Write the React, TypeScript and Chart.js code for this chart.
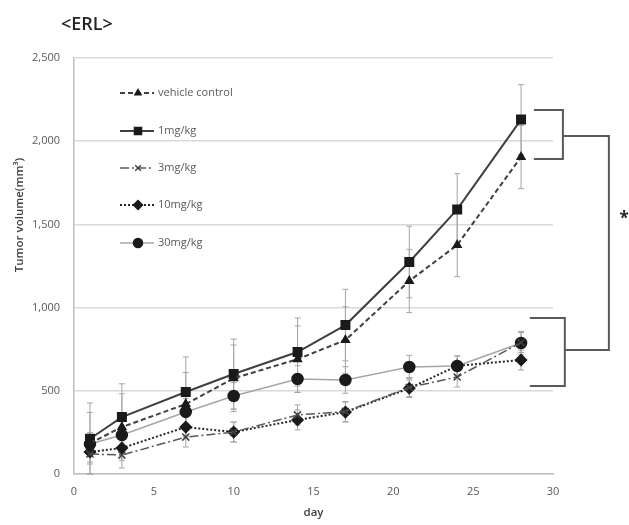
import React, { useEffect, useRef } from 'react';
import { Chart, registerables } from 'chart.js';
import { drawPoint } from 'chart.js/helpers';

Chart.register(...registerables);

const days = [1, 3, 7, 10, 14, 17, 21, 24, 28];
const seriesLabels = ['vehicle control', '1mg/kg', '3mg/kg', '10mg/kg', '30mg/kg'];
const vehicle = [185, 282, 420, 575, 690, 805, 1160, 1376, 1905];
const mg1 = [212, 342, 493, 601, 733, 895, 1274, 1590, 2130];
const mg3 = [120, 114, 222, 252, 355, 375, 520, 583, 790];
const mg10 = [132, 156, 282, 252, 325, 372, 515, 650, 685];
const mg30 = [180, 234, 373, 469, 571, 565, 643, 649, 787];
const errVehicle = [185, 200, 190, 200, 200, 200, 190, 190, 190];
const errMg1 = [215, 200, 210, 210, 205, 215, 215, 215, 210];
const errMg3 = [60, 78, 60, 60, 60, 60, 60, 60, 60];
const errMg10 = [60, 60, 60, 60, 60, 60, 50, 60, 60];
const errMg30 = [70, 80, 80, 80, 80, 80, 70, 60, 70];
const yTickValues = [0, 500, 1000, 1500, 2000, 2500];
const xTickValues = [0, 5, 10, 15, 20, 25, 30];
const titleText = '<ERL>';
const yTitle = 'Tumor volume(mm³)';
const xTitle = 'day';
const significance = '*';
// brackets in data units
const bracketUpper = { x0: 28.8, x1: 30.62, yHigh: 2188, yLow: 1893 };
const bracketLower = { x0: 28.55, x1: 30.74, yHigh: 938, yLow: 529 };
const bracketJoin = { x: 33.5, yHigh: 2031, yLow: 745 };
const starPos = { x: 34.45, y: 1555 };

const seriesValues = [vehicle, mg1, mg3, mg10, mg30];
const seriesErrors = [errVehicle, errMg1, errMg3, errMg10, errMg30];

const FONT = '"Open Sans", Lato, sans-serif';

const styles = [
  { color: '#404040', width: 2, dash: [5, 3], point: 'triangle', radius: 4.5, pointColor: '#1a1a1a' },
  { color: '#404040', width: 2, dash: [], point: 'rect', radius: 6, pointColor: '#1a1a1a' },
  { color: '#595959', width: 1.5, dash: [9, 3, 2, 3], point: 'crossRot', radius: 5, pointColor: '#404040' },
  { color: '#262626', width: 2, dash: [2, 2], point: 'rectRot', radius: 5.5, pointColor: '#1a1a1a' },
  { color: '#a6a6a6', width: 1.5, dash: [], point: 'circle', radius: 5.5, pointColor: '#1a1a1a' },
];

const errorBarPlugin = {
  id: 'errorBars',
  beforeDatasetsDraw(chart: any) {
    const { ctx, scales } = chart;
    const xs = scales.x, ys = scales.y;
    ctx.save();
    ctx.strokeStyle = '#a6a6a6';
    ctx.lineWidth = 1;
    seriesValues.forEach((vals, i) => {
      vals.forEach((v, j) => {
        const e = seriesErrors[i][j];
        const x = xs.getPixelForValue(days[j]);
        const yt = ys.getPixelForValue(v + e);
        const yb = ys.getPixelForValue(Math.max(0, v - e));
        ctx.beginPath();
        ctx.moveTo(x, yt); ctx.lineTo(x, yb);
        ctx.moveTo(x - 3, yt); ctx.lineTo(x + 3, yt);
        ctx.moveTo(x - 3, yb); ctx.lineTo(x + 3, yb);
        ctx.stroke();
      });
    });
    ctx.restore();
  },
};

const decorPlugin = {
  id: 'decor',
  afterDraw(chart: any) {
    const { ctx, scales } = chart;
    const xs = scales.x, ys = scales.y;
    ctx.save();
    // title
    ctx.fillStyle = '#262626';
    ctx.font = `600 18px ${FONT}`;
    ctx.textAlign = 'left';
    ctx.textBaseline = 'middle';
    ctx.fillText(titleText, 61, 25);
    // y title
    ctx.save();
    ctx.translate(20, 215);
    ctx.rotate(-Math.PI / 2);
    ctx.font = `600 11.5px ${FONT}`;
    ctx.textAlign = 'center';
    ctx.fillStyle = '#404040';
    ctx.fillText(yTitle, 0, 0);
    ctx.restore();
    // legend
    const rowY = [93, 131, 168, 205, 243];
    seriesLabels.forEach((label, i) => {
      const s = styles[i];
      const y = rowY[i];
      ctx.save();
      ctx.strokeStyle = s.color;
      ctx.lineWidth = s.width;
      ctx.setLineDash(s.dash);
      ctx.beginPath();
      ctx.moveTo(120, y); ctx.lineTo(154, y);
      ctx.stroke();
      ctx.restore();
      ctx.save();
      ctx.fillStyle = s.pointColor;
      ctx.strokeStyle = s.pointColor;
      ctx.lineWidth = 1.5;
      drawPoint(ctx, { pointStyle: s.point, radius: s.radius - 1, rotation: 0, borderWidth: 1.5 }, 138, y);
      ctx.restore();
      ctx.fillStyle = '#595959';
      ctx.font = `11px ${FONT}`;
      ctx.textAlign = 'left';
      ctx.fillText(label, 158, y);
    });
    // brackets
    const px = (v: number) => xs.getPixelForValue(v);
    const py = (v: number) => ys.getPixelForValue(v);
    ctx.strokeStyle = '#595959';
    ctx.lineWidth = 2;
    ctx.beginPath();
    ctx.moveTo(px(bracketUpper.x0), py(bracketUpper.yHigh));
    ctx.lineTo(px(bracketUpper.x1), py(bracketUpper.yHigh));
    ctx.lineTo(px(bracketUpper.x1), py(bracketUpper.yLow));
    ctx.lineTo(px(bracketUpper.x0), py(bracketUpper.yLow));
    ctx.moveTo(px(bracketLower.x0), py(bracketLower.yHigh));
    ctx.lineTo(px(bracketLower.x1), py(bracketLower.yHigh));
    ctx.lineTo(px(bracketLower.x1), py(bracketLower.yLow));
    ctx.lineTo(px(bracketLower.x0), py(bracketLower.yLow));
    ctx.moveTo(px(bracketUpper.x1), py(bracketJoin.yHigh));
    ctx.lineTo(px(bracketJoin.x), py(bracketJoin.yHigh));
    ctx.lineTo(px(bracketJoin.x), py(bracketJoin.yLow));
    ctx.lineTo(px(bracketLower.x1), py(bracketJoin.yLow));
    ctx.stroke();
    ctx.fillStyle = '#262626';
    ctx.font = `bold 17px ${FONT}`;
    ctx.textAlign = 'center';
    ctx.fillText(significance, px(starPos.x), py(starPos.y) + 4);
    ctx.restore();
  },
};

export default function App() {
  const ref = useRef<HTMLCanvasElement>(null);
  useEffect(() => {
    document.body.style.margin = '0';
    if (!ref.current) return;
    const chart = new Chart(ref.current, {
      type: 'line',
      data: {
        datasets: seriesValues.map((vals, i) => ({
          label: seriesLabels[i],
          data: vals.map((v, j) => ({ x: days[j], y: v })),
          borderColor: styles[i].color,
          borderWidth: styles[i].width,
          borderDash: styles[i].dash,
          pointStyle: styles[i].point as any,
          pointRadius: styles[i].radius,
          pointBackgroundColor: styles[i].pointColor,
          pointBorderColor: styles[i].pointColor,
          pointBorderWidth: 1.5,
          fill: false,
          tension: 0,
        })),
      },
      options: {
        animation: false,
        responsive: false,
        layout: { padding: { top: 58, right: 76, left: 0, bottom: 0 } },
        plugins: { legend: { display: false }, tooltip: { enabled: false }, title: { display: false } },
        scales: {
          x: {
            type: 'linear',
            min: 0,
            max: 30,
            afterBuildTicks: (s: any) => { s.ticks = xTickValues.map((v) => ({ value: v })); },
            afterFit: (s: any) => { s.height = 51; },
            ticks: { color: '#595959', font: { size: 11, family: FONT }, padding: 11 },
            grid: { display: false, drawTicks: false },
            border: { display: true, color: '#bfbfbf', width: 1.5 },
            title: { display: true, text: xTitle, color: '#404040', font: { size: 11.5, weight: 600, family: FONT }, padding: { top: 0, bottom: 5 } },
          },
          y: {
            type: 'linear',
            min: 0,
            max: 2500,
            afterBuildTicks: (s: any) => { s.ticks = yTickValues.map((v) => ({ value: v })); },
            afterFit: (s: any) => { s.width = 74; },
            ticks: {
              color: '#595959',
              font: { size: 11, family: FONT },
              padding: 14,
              callback: (v: any) => Number(v).toLocaleString('en-US'),
            },
            grid: { color: '#d9d9d9', lineWidth: 1.5, drawTicks: false },
            border: { display: true, color: '#bfbfbf', width: 1.5 },
          },
        },
      },
      plugins: [errorBarPlugin, decorPlugin],
    });
    return () => chart.destroy();
  }, []);
  return (
    <div style={{ width: 629, height: 525, background: '#fff' }}>
      <canvas ref={ref} width={629} height={525} />
    </div>
  );
}
